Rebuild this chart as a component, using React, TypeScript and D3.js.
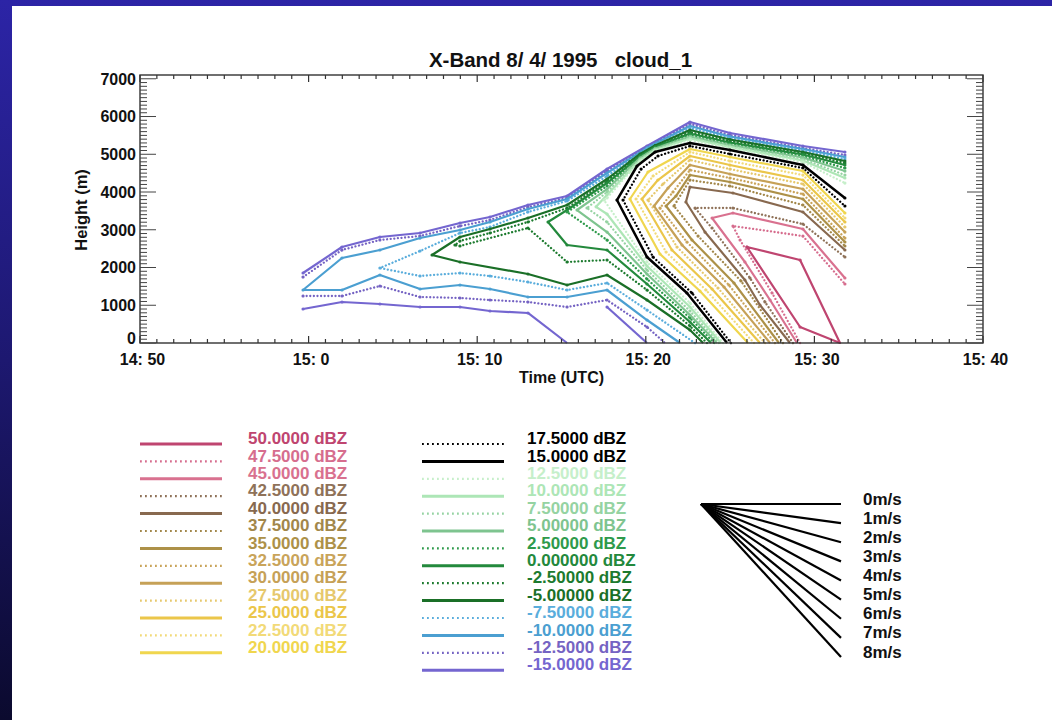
import React from "react";
import * as d3 from "d3";

// ---------- axis data ----------
// time is minutes after 14:50 UTC, height in metres
const TIME_TICKS = [0, 10, 20, 30, 40, 50];
const TIME_TICK_LABELS = ["14: 50", "15: 0", "15: 10", "15: 20", "15: 30", "15: 40"];
const HEIGHT_TICKS = [0, 1000, 2000, 3000, 4000, 5000, 6000, 7000];
const HEIGHT_TICK_LABELS = ["0", "1000", "2000", "3000", "4000", "5000", "6000", "7000"];

// ---------- contour levels (dBZ) ----------
const LEVELS = [50, 47.5, 45, 42.5, 40, 37.5, 35, 32.5, 30, 27.5, 25, 22.5, 20,
  17.5, 15, 12.5, 10, 7.5, 5, 2.5, 0, -2.5, -5, -7.5, -10, -12.5, -15];
const LEVEL_COLORS = ["#bf4570", "#d66d8e", "#d9718f", "#8f7259", "#88694f", "#a2874a", "#ad9148",
  "#c9a45a", "#c6a157", "#e6c86c", "#ebc64a", "#f2da78", "#f0d64e",
  "#000000", "#000000", "#c6efca", "#ade6b6", "#95d3a2", "#7ec48f", "#2e9a4b", "#23893c",
  "#1c7a2e", "#1a6f27", "#5aaddc", "#4b9fd1", "#7563c3", "#7466d0"];
const LEGEND_LEFT = [50, 47.5, 45, 42.5, 40, 37.5, 35, 32.5, 30, 27.5, 25, 22.5, 20];
const LEGEND_RIGHT = [17.5, 15, 12.5, 10, 7.5, 5, 2.5, 0, -2.5, -5, -7.5, -10, -12.5, -15];
const WIND_SPEEDS = [0, 1, 2, 3, 4, 5, 6, 7, 8];

// ---------- contour polylines [minutes after 14:50, height m] ----------
const C_M15_TOP = [[9.67, 1854], [11.98, 2543], [14.23, 2808], [16.61, 2914], [18.98, 3179], [20.76, 3338], [23.01, 3656], [25.33, 3894], [27.70, 4609], [30.07, 5219], [32.62, 5854], [34.99, 5563], [39.32, 5219], [41.81, 5060]];
const C_M15_LOW = [[9.67, 901], [11.98, 1086], [14.23, 1033], [16.61, 954], [18.98, 954], [20.76, 848], [23.01, 795], [25.33, 0]];
const C_M15_LOW2 = [[27.70, 954], [30.07, 0]];
const C_M125_TOP = [[9.67, 1748], [11.98, 2464], [14.23, 2729], [16.61, 2834], [18.98, 3099], [20.76, 3258], [23.01, 3603], [25.33, 3841], [27.70, 4556], [30.07, 5192], [32.62, 5801], [34.99, 5510], [39.32, 5166], [41.81, 4980]];
const C_M125_LOW = [[9.67, 1245], [11.98, 1245], [14.23, 1510], [16.61, 1219], [18.98, 1192], [20.76, 1139], [23.01, 1086], [25.33, 954], [27.70, 1139], [30.07, 424], [31.14, 0]];
const C_M10 = [[32.03, 0], [30.07, 609], [27.70, 1404], [25.33, 1219], [23.01, 1219], [20.76, 1430], [18.98, 1536], [16.61, 1430], [14.23, 1801], [11.98, 1404], [9.67, 1404], [11.98, 2252], [14.23, 2464], [16.61, 2781], [18.98, 2993], [20.76, 3205], [23.01, 3550], [25.33, 3815], [27.70, 4503], [30.07, 5171], [32.62, 5748], [34.99, 5470], [39.32, 5139], [41.81, 4927]];
const C_M75 = [[32.92, 0], [30.07, 874], [27.70, 1589], [25.33, 1404], [23.01, 1616], [20.76, 1775], [18.98, 1854], [16.61, 1775], [14.23, 1987], [16.61, 2437], [18.98, 2914], [20.76, 3073], [23.01, 3470], [25.33, 3762], [27.70, 4424], [30.07, 5150], [32.62, 5695], [34.99, 5430], [39.32, 5099], [41.81, 4874]];
const C_M5 = [[33.40, 0], [32.62, 344], [30.07, 1139], [27.70, 1801], [25.33, 1536], [23.01, 1828], [18.98, 2146], [17.32, 2331], [18.98, 2808], [20.76, 3020], [23.01, 3311], [25.33, 3656], [27.70, 4344], [29.06, 4808], [29.66, 5007], [30.55, 5232], [32.62, 5642], [34.99, 5391], [39.32, 5060], [41.81, 4821]];
const C_M25 = [[33.63, 0], [32.62, 450], [30.07, 1404], [27.70, 2199], [25.33, 2146], [23.01, 3046], [18.98, 2570], [18.68, 2596], [18.98, 2702], [20.76, 2914], [23.01, 3205], [25.33, 3576], [27.70, 4291], [29.06, 4768], [29.66, 4980], [30.55, 5211], [32.62, 5589], [34.99, 5351], [39.32, 5033], [41.81, 4768]];
const C_P0 = [[33.87, 0], [32.62, 556], [30.07, 1563], [27.70, 2464], [25.33, 2596], [24.20, 3205], [25.33, 3523], [27.70, 4238], [29.06, 4729], [29.66, 4954], [30.55, 5192], [32.62, 5549], [34.99, 5311], [39.32, 4993], [41.81, 4715]];
const C_P25 = [[34.05, 0], [32.62, 662], [30.07, 1695], [27.70, 2729], [25.33, 3470], [27.70, 4159], [29.06, 4689], [29.66, 4927], [30.55, 5171], [32.62, 5510], [34.99, 5272], [39.32, 4954], [41.81, 4636]];
const C_P5 = [[34.22, 0], [32.62, 742], [30.07, 1828], [27.70, 2940], [25.92, 3523], [27.70, 4079], [29.06, 4649], [29.66, 4901], [30.55, 5152], [32.62, 5470], [34.99, 5245], [39.32, 4914], [41.81, 4556]];
const C_P75 = [[34.34, 0], [32.62, 848], [30.07, 1934], [27.70, 3205], [26.51, 3576], [27.70, 4000], [29.06, 4609], [29.66, 4874], [30.55, 5131], [32.62, 5444], [34.99, 5219], [39.32, 4874], [41.81, 4450]];
const C_P10 = [[34.46, 0], [32.62, 954], [30.07, 2040], [27.70, 3417], [27.05, 3607], [27.70, 3921], [29.06, 4570], [29.66, 4848], [30.55, 5113], [32.62, 5417], [34.99, 5192], [39.32, 4834], [41.81, 4371]];
const C_P125 = [[34.58, 0], [32.62, 1060], [30.07, 2146], [27.52, 3788], [27.70, 3841], [29.06, 4530], [29.66, 4821], [30.55, 5091], [32.62, 5377], [34.99, 5166], [39.32, 4795], [41.81, 4238]];
const C_P15 = [[34.82, 0], [32.44, 1325], [30.07, 2278], [28.29, 3788], [29.48, 4689], [30.55, 5060], [32.62, 5298], [34.99, 5113], [39.32, 4715], [41.81, 3841]];
const C_P175 = [[35.05, 0], [32.74, 1325], [30.43, 2278], [28.65, 3788], [29.72, 4609], [30.72, 4954], [32.62, 5219], [34.99, 5007], [39.32, 4636], [41.81, 3629]];
const C_P20 = [[36.06, 0], [33.21, 1377], [30.84, 2358], [29.06, 3815], [30.13, 4530], [32.62, 5139], [34.99, 4927], [39.32, 4556], [41.81, 3444]];
const C_P225 = [[36.42, 0], [33.57, 1404], [31.20, 2411], [29.42, 3815], [30.43, 4424], [32.62, 5060], [34.99, 4821], [39.32, 4450], [41.81, 3311]];
const C_P250 = [[36.77, 0], [33.93, 1430], [31.55, 2464], [29.77, 3815], [30.72, 4318], [32.62, 4954], [34.99, 4715], [39.32, 4318], [41.81, 3205]];
const C_P275 = [[37.07, 0], [34.28, 1457], [31.85, 2543], [30.13, 3788], [31.02, 4212], [32.62, 4848], [34.99, 4609], [39.32, 4212], [41.81, 3073]];
const C_P30 = [[37.37, 0], [34.64, 1483], [32.15, 2596], [30.49, 3629], [31.32, 4106], [32.62, 4715], [34.99, 4477], [39.32, 4079], [41.81, 2940]];
const C_P325 = [[37.66, 0], [34.93, 1536], [32.44, 2676], [30.84, 3576], [31.61, 4000], [32.62, 4583], [34.99, 4371], [39.32, 3947], [41.81, 2781]];
const C_P35 = [[37.90, 0], [35.23, 1589], [32.74, 2729], [31.20, 3629], [31.79, 3894], [32.62, 4450], [34.99, 4265], [39.32, 3815], [41.81, 2676]];
const C_P375 = [[38.14, 0], [35.65, 1642], [33.10, 2834], [31.67, 3629], [32.62, 4318], [34.99, 4159], [39.32, 3656], [41.81, 2570]];
const C_P40 = [[38.55, 0], [36.77, 1007], [35.88, 1669], [33.51, 2940], [32.38, 3735], [32.62, 4132], [35.17, 3974], [39.32, 3470], [41.81, 2464]];
const C_P425 = [[38.73, 0], [37.07, 1086], [36.18, 1722], [33.93, 3046], [32.92, 3576], [35.17, 3576], [39.32, 3152], [41.81, 2278]];
const C_P45 = [[38.97, 0], [37.37, 1139], [35.88, 2146], [33.93, 3311], [35.17, 3444], [39.32, 3020], [41.81, 1722]];
const C_P475 = [[39.15, 0], [37.49, 1325], [35.59, 2729], [35.17, 3099], [39.32, 2834], [41.81, 1563]];
const C_P50 = [[36.00, 2543], [39.15, 2199], [41.52, 0], [39.15, 424], [36.00, 2543]];

const CONTOURS: { level: number; pts: number[][] }[] = [
  { level: -15, pts: C_M15_TOP }, { level: -15, pts: C_M15_LOW }, { level: -15, pts: C_M15_LOW2 },
  { level: -12.5, pts: C_M125_TOP }, { level: -12.5, pts: C_M125_LOW },
  { level: -10, pts: C_M10 }, { level: -7.5, pts: C_M75 }, { level: -5, pts: C_M5 },
  { level: -2.5, pts: C_M25 }, { level: 0, pts: C_P0 }, { level: 2.5, pts: C_P25 },
  { level: 5, pts: C_P5 }, { level: 7.5, pts: C_P75 }, { level: 10, pts: C_P10 },
  { level: 12.5, pts: C_P125 }, { level: 15, pts: C_P15 }, { level: 17.5, pts: C_P175 },
  { level: 20, pts: C_P20 }, { level: 22.5, pts: C_P225 }, { level: 25, pts: C_P250 },
  { level: 27.5, pts: C_P275 }, { level: 30, pts: C_P30 }, { level: 32.5, pts: C_P325 },
  { level: 35, pts: C_P35 }, { level: 37.5, pts: C_P375 }, { level: 40, pts: C_P40 },
  { level: 42.5, pts: C_P425 }, { level: 45, pts: C_P45 }, { level: 47.5, pts: C_P475 },
  { level: 50, pts: C_P50 },
];

const FONT = "'Liberation Sans', Arial, Helvetica, sans-serif";

function colorOf(level: number) {
  return LEVEL_COLORS[LEVELS.indexOf(level)];
}
function isDotted(level: number) {
  return Math.abs(level % 5) > 0.01;
}
function fmtLevel(v: number) {
  if (v === 0) return "0.000000";
  return v.toPrecision(6);
}

export default function App() {
  const W = 1052, H = 720;
  const x = d3.scaleLinear().domain([0, 50]).range([140, 983]);
  const y = d3.scaleLinear().domain([0, 7100]).range([343, 75]);
  const line = d3.line<number[]>().x((d) => x(d[0])).y((d) => y(d[1]));

  const minorX = d3.range(0, 51, 1);
  const minorY = d3.range(0, 7100, 100);

  const legRowY = (i: number) => 438 + i * 17.4;
  const windY = d3.scaleLinear().domain([0, 8]).range([504, 657]);

  const drawOrder = [...CONTOURS].sort((a, b) => a.level - b.level);

  return (
    <div style={{ position: "absolute", left: 0, top: 0 }}>
      <svg width={W} height={H} style={{ display: "block" }}>
        <defs>
          <linearGradient id="bg" x1="0" y1="0" x2="0" y2="1">
            <stop offset="0" stopColor="#2c24a6" />
            <stop offset="0.5" stopColor="#1d1870" />
            <stop offset="1" stopColor="#0b0a2e" />
          </linearGradient>
        </defs>
        <rect x={0} y={0} width={W} height={H} fill="url(#bg)" />
        <rect x={12} y={6} width={W - 12} height={H - 6} fill="#ffffff" />

        {/* title */}
        <text x={560.5} y={67} textAnchor="middle" fontFamily={FONT} fontWeight="bold" fontSize={20.5} fill="#111">
          X-Band 8/ 4/ 1995{"\u00a0\u00a0\u00a0"}cloud_1
        </text>

        {/* contours */}
        <g>
          {drawOrder.map((c, i) => {
            const dotted = isDotted(c.level);
            const col = colorOf(c.level);
            return (
              <g key={i}>
                <path d={line(c.pts) || ""} fill="none" stroke={col}
                  strokeWidth={dotted ? 2.3 : (c.level === 15 ? 2.5 : 2.2)}
                  strokeDasharray={dotted ? "0.01 3.6" : undefined}
                  strokeLinecap={dotted ? "round" : "butt"} strokeLinejoin="round" />
                {c.pts.filter((p) => p[1] > 0).map((p, j) => (
                  <circle key={j} cx={x(p[0])} cy={y(p[1])} r={1.6} fill={col} />
                ))}
              </g>
            );
          })}
        </g>

        {/* axes box */}
        <rect x={x(0)} y={y(7100)} width={x(50) - x(0)} height={y(0) - y(7100)} fill="none" stroke="#333" strokeWidth={1.4} />
        {minorX.map((t) => {
          const major = t % 10 === 0;
          const len = major ? 7 : 4;
          return (
            <g key={"xt" + t} stroke="#333" strokeWidth={1.2}>
              <line x1={x(t)} x2={x(t)} y1={y(0)} y2={y(0) - len} />
              <line x1={x(t)} x2={x(t)} y1={y(7100)} y2={y(7100) + len} />
            </g>
          );
        })}
        {minorY.map((h) => {
          const major = h % 1000 === 0;
          const len = major ? 16 : 7;
          return (
            <g key={"yt" + h} stroke="#444" strokeWidth={1}>
              <line x1={x(0)} x2={x(0) + len} y1={y(h)} y2={y(h)} />
              <line x1={x(50)} x2={x(50) - len} y1={y(h)} y2={y(h)} />
            </g>
          );
        })}
        {HEIGHT_TICKS.map((h, i) => (
          <text key={"yl" + h} x={136} y={y(h) - (i === 0 ? 5 : 0)} dy="0.36em" textAnchor="end"
            fontFamily={FONT} fontWeight="bold" fontSize={16} fill="#111">{HEIGHT_TICK_LABELS[i]}</text>
        ))}
        {TIME_TICKS.map((t, i) => (
          <text key={"xl" + t} x={x(t) + 2.5} y={365} textAnchor="middle"
            fontFamily={FONT} fontWeight="bold" fontSize={16} fill="#111">{TIME_TICK_LABELS[i]}</text>
        ))}
        <text x={561.5} y={383} textAnchor="middle" fontFamily={FONT} fontWeight="bold" fontSize={16} fill="#111">Time (UTC)</text>
        <text transform="translate(81,210) rotate(-90)" dy="0.36em" textAnchor="middle"
          fontFamily={FONT} fontWeight="bold" fontSize={16.5} fill="#111">Height (m)</text>

        {/* dBZ legend */}
        {[{ levels: LEGEND_LEFT, x0: 140, x1: 222, tx: 248 }, { levels: LEGEND_RIGHT, x0: 422, x1: 504, tx: 527 }].map((col, ci) => (
          <g key={"leg" + ci}>
            {col.levels.map((lv, i) => {
              const dotted = isDotted(lv);
              const c = colorOf(lv);
              const ly = legRowY(i) + 6;
              return (
                <g key={lv}>
                  <line x1={col.x0} x2={col.x1} y1={ly} y2={ly} stroke={c}
                    strokeWidth={dotted ? 2.2 : 3}
                    strokeDasharray={dotted ? "1.8 3.2" : undefined} />
                  <text x={col.tx} y={legRowY(i)} dy="0.36em" fontFamily={FONT} fontWeight="bold"
                    fontSize={17} fill={c}>{fmtLevel(lv) + " dBZ"}</text>
                </g>
              );
            })}
          </g>
        ))}

        {/* wind speed legend */}
        <g>
          {WIND_SPEEDS.map((s) => (
            <g key={"w" + s}>
              <line x1={701} y1={windY(0)} x2={841} y2={windY(s)} stroke="#000" strokeWidth={2.2} />
              <text x={863} y={windY(s) - 5.5} dy="0.36em" fontFamily={FONT} fontWeight="bold" fontSize={17} fill="#111">
                {s + "m/s"}
              </text>
            </g>
          ))}
        </g>
      </svg>
    </div>
  );
}
